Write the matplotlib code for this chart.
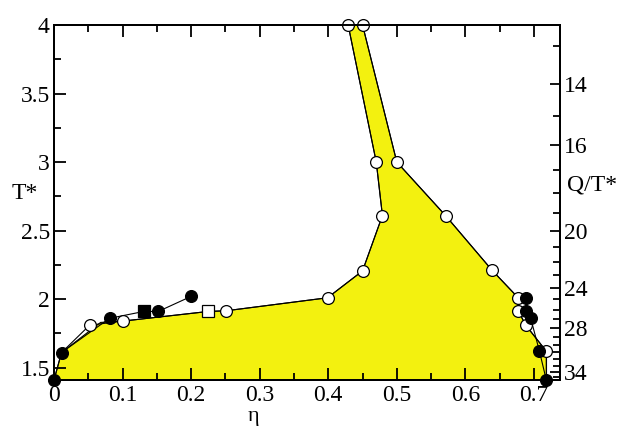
import numpy as np
import matplotlib
matplotlib.use("Agg")
import matplotlib.pyplot as plt
from matplotlib.ticker import MultipleLocator, FixedLocator

# phase boundary data (eta, T*)
fill_eta = [0.0, 0.011, 0.068, 0.101, 0.225, 0.251, 0.399, 0.450, 0.479, 0.470, 0.429,
            0.450, 0.500, 0.571, 0.639, 0.677, 0.677, 0.688, 0.718, 0.718]
fill_T = [1.41, 1.61, 1.83, 1.84, 1.91, 1.915, 2.01, 2.206, 2.61, 3.0, 4.0,
          4.0, 3.0, 2.61, 2.21, 2.01, 1.915, 1.81, 1.62, 1.41]

# open circles, left branch
open_left_eta = [0.011, 0.052, 0.101, 0.225, 0.251, 0.399, 0.450, 0.479, 0.470, 0.429]
open_left_T = [1.61, 1.81, 1.84, 1.91, 1.915, 2.01, 2.206, 2.61, 3.0, 4.0]
# open circles, right branch
open_right_eta = [0.450, 0.500, 0.571, 0.639, 0.677, 0.677, 0.688, 0.718]
open_right_T = [4.0, 3.0, 2.61, 2.21, 2.01, 1.915, 1.81, 1.62]

# filled circles
filled_left_eta = [0.0, 0.011, 0.081, 0.131, 0.152, 0.200]
filled_left_T = [1.41, 1.61, 1.86, 1.91, 1.91, 2.02]
filled_right_eta = [0.689, 0.689, 0.695, 0.708, 0.718]
filled_right_T = [2.01, 1.915, 1.865, 1.62, 1.41]

# squares
sq_filled = (0.131, 1.91)
sq_open = (0.225, 1.91)

# right axis Q/T*, Q = 50
Q = 50.0
qt_major = [14, 16, 20, 24, 28, 34]
qt_minor = list(range(13, 36))

serif = ['Liberation Serif', 'DejaVu Serif']
plt.rcParams['font.family'] = serif
fs = 17

fig = plt.figure(figsize=(6.33, 4.26), dpi=100)
ax = fig.add_axes([0.0853, 0.108, 0.7994, 0.8333])

ax.fill(fill_eta, fill_T, facecolor='#f3f10f', edgecolor='black', lw=0.8, zorder=1)

mk = dict(markersize=8.5, markeredgewidth=0.9, clip_on=False, zorder=5)
ax.plot(open_left_eta, open_left_T, color='black', lw=0.8, zorder=3)
ax.plot(open_left_eta[1:3] + open_left_eta[4:], open_left_T[1:3] + open_left_T[4:],
        'o', mfc='white', mec='black', **mk)
ax.plot(open_right_eta, open_right_T, '-o', color='black', lw=0.8, mfc='white', mec='black', **mk)
ax.plot(filled_left_eta, filled_left_T, color='black', lw=0.8, zorder=3)
ax.plot(filled_left_eta[:3] + filled_left_eta[4:], filled_left_T[:3] + filled_left_T[4:],
        'o', color='black', **mk)
ax.plot(filled_right_eta, filled_right_T, '-o', color='black', lw=0.8, **mk)
ax.plot([open_right_eta[-1], filled_right_eta[-1]], [open_right_T[-1], filled_right_T[-1]],
        color='black', lw=0.8, zorder=3)
ax.plot(*sq_filled, 's', color='black', **mk)
ax.plot(*sq_open, 's', mfc='white', mec='black', **mk)

ax.set_xlim(0, 0.738)
ax.set_ylim(1.41, 4.0)
ax.xaxis.set_minor_locator(MultipleLocator(0.05))
ax.yaxis.set_minor_locator(MultipleLocator(0.25))
ax.set_xticks(np.arange(0, 0.75, 0.1))
ax.set_xticklabels(['0', '0.1', '0.2', '0.3', '0.4', '0.5', '0.6', '0.7'])
ax.set_yticks([1.5, 2, 2.5, 3, 3.5, 4])
ax.set_yticklabels(['1.5', '2', '2.5', '3', '3.5', '4'])
ax.tick_params(which='both', direction='in', top=True, right=False, width=1.3,
               labelsize=fs, labelfontfamily='Liberation Serif')
ax.tick_params(axis='x', pad=3.5)
ax.tick_params(axis='y', pad=3)
ax.tick_params(which='major', length=8.5)
ax.tick_params(which='minor', length=5)
for s in ax.spines.values():
    s.set_linewidth(1.4)

ax2 = ax.twinx()
ax2.set_ylim(ax.get_ylim())
ax2.yaxis.set_major_locator(FixedLocator([Q / q for q in qt_major]))
ax2.yaxis.set_minor_locator(FixedLocator([Q / q for q in qt_minor if 1.41 <= Q / q <= 4.0]))
ax2.set_yticklabels([str(q) for q in qt_major])
ax2.tick_params(which='both', direction='in', width=1.3, labelsize=fs, pad=3,
                labelfontfamily='Liberation Serif')
ax2.tick_params(which='major', length=7.5)
ax2.tick_params(which='minor', length=5)
for s in ax2.spines.values():
    s.set_linewidth(1.4)

fig.text(0.018, 0.545, 'T*', fontsize=fs, ha='left', va='center', family=serif)
fig.text(0.895, 0.565, 'Q/T*', fontsize=fs, ha='left', va='center', family=serif)
fig.text(0.40, 0.0, 'η', fontsize=16, ha='center', va='bottom', family=serif)

fig.savefig('out.png', dpi=100)
